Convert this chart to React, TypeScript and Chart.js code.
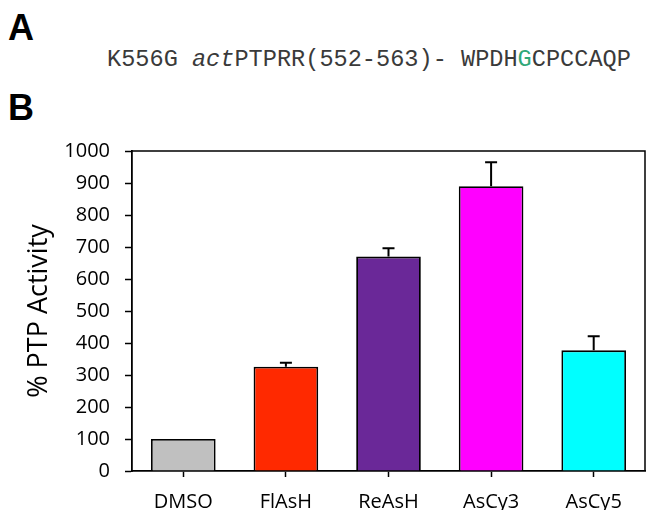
import React, { useEffect, useRef } from "react";
import { Chart, registerables } from "chart.js";

Chart.register(...registerables);

const categories = ["DMSO", "FlAsH", "ReAsH", "AsCy3", "AsCy5"];
const activity = [100, 326, 670, 890, 377];
const errorsUp = [0, 12, 26, 75, 44];
const barColors = ["#c0c0c0", "#ff2900", "#6a2898", "#ff00ff", "#00ffff"];
const yTicks = [0, 100, 200, 300, 400, 500, 600, 700, 800, 900, 1000];

const errorBarPlugin = {
  id: "errorBars",
  afterDatasetsDraw(chart: any) {
    const ctx = chart.ctx;
    const meta = chart.getDatasetMeta(0);
    const yScale = chart.scales.y;
    ctx.save();
    ctx.strokeStyle = "#000";
    ctx.lineWidth = 2;
    meta.data.forEach((bar: any, i: number) => {
      const err = errorsUp[i];
      if (!err) return;
      const x = bar.x;
      const yTop = bar.y;
      const yErr = yScale.getPixelForValue(activity[i] + err);
      ctx.beginPath();
      ctx.moveTo(x, yTop);
      ctx.lineTo(x, yErr);
      ctx.moveTo(x - 6, yErr);
      ctx.lineTo(x + 6, yErr);
      ctx.stroke();
    });
    ctx.restore();
  },
};

const framePlugin = {
  id: "frame",
  afterDraw(chart: any) {
    const { ctx, chartArea } = chart;
    ctx.save();
    ctx.strokeStyle = "#000";
    ctx.lineWidth = 1.5;
    ctx.beginPath();
    ctx.moveTo(chartArea.left, chartArea.top);
    ctx.lineTo(chartArea.right, chartArea.top);
    ctx.lineTo(chartArea.right, chartArea.bottom);
    ctx.stroke();
    ctx.restore();
  },
};

export default function App() {
  const canvasRef = useRef<HTMLCanvasElement | null>(null);

  useEffect(() => {
    if (!canvasRef.current) return;
    const chart = new Chart(canvasRef.current, {
      type: "bar",
      data: {
        labels: categories,
        datasets: [
          {
            data: activity,
            backgroundColor: barColors,
            borderColor: "#000",
            borderWidth: 1.8,
            barPercentage: 0.63,
            categoryPercentage: 1,
          },
        ],
      },
      options: {
        responsive: false,
        animation: false,
        layout: { padding: { top: 151, right: 1, left: 0, bottom: 0 } },
        plugins: { legend: { display: false }, tooltip: { enabled: false } },
        scales: {
          x: {
            grid: {
              display: true,
              drawOnChartArea: false,
              drawTicks: true,
              tickLength: 6,
              tickColor: "#000",
              tickWidth: 1.5,
              offset: false,
            },
            border: { display: true, color: "#000", width: 1.8 },
            ticks: {
              color: "#000",
              padding: 13,
              font: { family: "'Open Sans'", size: 20 },
            },
            afterFit(scale: any) {
              scale.height = 39;
            },
          },
          y: {
            min: 0,
            max: 1000,
            afterBuildTicks(scale: any) {
              scale.ticks = yTicks.map((v) => ({ value: v }));
            },
            grid: {
              display: true,
              drawOnChartArea: false,
              drawTicks: true,
              tickLength: 7,
              tickColor: "#000",
              tickWidth: 1.5,
            },
            border: { display: true, color: "#000", width: 1.8 },
            ticks: {
              color: "#000",
              padding: 15,
              font: { family: "'Open Sans'", size: 20 },
              callback: (value: any) => String(value),
            },
            title: {
              display: true,
              text: "% PTP Activity",
              color: "#000",
              font: { family: "'Open Sans'", size: 27 },
              padding: { top: 23, bottom: 0 },
            },
            afterFit(scale: any) {
              scale.width = 132;
            },
          },
        },
      },
      plugins: [errorBarPlugin, framePlugin],
    });
    return () => chart.destroy();
  }, []);

  return (
    <div style={{ position: "absolute", left: 0, top: 0, width: 646, height: 510, background: "#fff", overflow: "hidden" }}>
      <div
        style={{
          position: "absolute",
          left: 8,
          top: 9.5,
          fontFamily: "'Liberation Sans', Arial, sans-serif",
          fontWeight: "bold",
          fontSize: 36,
          lineHeight: "36px",
          color: "#000",
        }}
      >
        A
      </div>
      <div
        style={{
          position: "absolute",
          left: 107,
          top: 47.5,
          fontFamily: "'Liberation Mono', 'Courier New', monospace",
          fontSize: 23.6,
          lineHeight: "23px",
          color: "#3a3a3a",
          whiteSpace: "pre",
        }}
      >
        K556G <i>act</i>PTPRR(552-563)- WPDH<span style={{ color: "#2fa878" }}>G</span>CPCCAQP
      </div>
      <div
        style={{
          position: "absolute",
          left: 8,
          top: 90,
          fontFamily: "'Liberation Sans', Arial, sans-serif",
          fontWeight: "bold",
          fontSize: 36,
          lineHeight: "36px",
          color: "#000",
        }}
      >
        B
      </div>
      <canvas
        ref={canvasRef}
        width={646}
        height={510}
        style={{ position: "absolute", left: 0, top: 0, width: 646, height: 510 }}
      />
    </div>
  );
}
